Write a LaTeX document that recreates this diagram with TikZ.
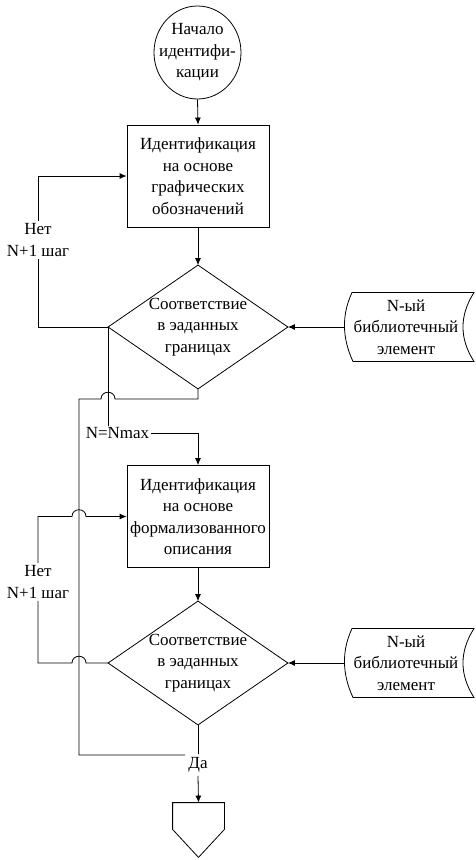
\documentclass[tikz,border=0pt]{standalone}
\usepackage{fontspec}
\setmainfont{Liberation Serif}
\usetikzlibrary{arrows.meta,calc}
\begin{document}
\begin{tikzpicture}[x=1pt,y=-1pt,
  line width=0.8pt,
  every node/.style={font=\fontsize{17}{21.5}\selectfont, align=center},
  arr/.style={-{Latex[length=7pt,width=6pt]}},
  procbox/.style={draw, rectangle, minimum width=142, minimum height=102, inner sep=0},
  decbox/.style={rectangle, minimum width=179, minimum height=123, inner sep=0},
  libbox/.style={rectangle, inner sep=0},
  lbl/.style={inner sep=2pt}
]
\useasboundingbox (0,0) rectangle (476,860);

% start
\node[minimum width=87, minimum height=93, inner sep=0] (start) at (197.5,52.5) {Начало\\идентифи-\\кации};
\draw (start.center) ellipse [x radius=43.5, y radius=46.5];

% process 1
\node[procbox] (box1) at (198,176) {Идентификация\\на основе\\графических\\обозначений};

% decision 1
\node[decbox] (d1) at (198,327) {Соответствие\\в эаданных\\границах};
\draw (d1.north) -- (d1.east) -- (d1.south) -- (d1.west) -- cycle;

% library 1
\node[libbox] (lib1) at (406,327) {N-ый\\библиотечный\\элемент};
\draw ([shift={(-54,-34.5)}]lib1.center) .. controls +(-10.7,23) and +(-10.7,-23) .. ([shift={(-53,34.5)}]lib1.center)
  -- ([shift={(68,34.5)}]lib1.center) .. controls +(-14.7,-23) and +(-14.7,23) .. ([shift={(68,-34.5)}]lib1.center) -- cycle;

% process 2
\node[procbox] (box2) at (198,516.5) {Идентификация\\на основе\\формализованного\\описания};

% decision 2
\node[decbox] (d2) at (198,663) {Соответствие\\в эаданных\\границах};
\draw (d2.north) -- (d2.east) -- (d2.south) -- (d2.west) -- cycle;

% library 2
\node[libbox] (lib2) at (406,663) {N-ый\\библиотечный\\элемент};
\draw ([shift={(-54,-34.5)}]lib2.center) .. controls +(-10.7,23) and +(-10.7,-23) .. ([shift={(-53,34.5)}]lib2.center)
  -- ([shift={(68,34.5)}]lib2.center) .. controls +(-14.7,-23) and +(-14.7,23) .. ([shift={(68,-34.5)}]lib2.center) -- cycle;

% end
\node[minimum width=51, minimum height=26, inner sep=0] (fin) at (198.5,816) {};
\draw (fin.north west) -- (fin.north east) -- (fin.south east) -- ($(fin.south)+(0,28)$) -- (fin.south west) -- cycle;

% labels
\node[lbl] (nl1) at (38,240) {Нет\\N+1 шаг};
\node[lbl] (nl2) at (38,582) {Нет\\N+1 шаг};
\node[inner sep=1pt] (nmax) at (117.5,433.5) {N=Nmax};
\node[inner sep=3pt] (yes) at (198,765) {Да};

% connectors
\draw[arr] (start.south) -- (box1.north);
\draw[arr] (box1.south) -- (d1.north);
\draw[arr] ([xshift=-62]lib1.center) -- (d1.east);
\draw (d1.west) -| (nl1.south);
\draw[arr] (nl1.north) |- (box1.west);
\draw (d1.west) -- (d1.west |- nmax.north);
\draw[arr] (nmax.east) -| (box2.north);
\coordinate (ya) at (79,755);
\draw (d1.south) -- (198,399) -- (115,399) .. controls +(0,-9) and +(0,-9) .. (101,399) -- (79,399) -- (ya) -- (ya -| yes.west);
\draw[arr] (box2.south) -- (d2.north);
\draw[arr] ([xshift=-62]lib2.center) -- (d2.east);
\draw (d2.west) -- (86,663) .. controls +(0,-9) and +(0,-9) .. (72,663) -- (38,663) -- (nl2.south);
\draw[arr] (nl2.north) -- (38,516.5) -- (72,516.5) .. controls +(0,-9) and +(0,-9) .. (86,516.5) -- (box2.west);
\draw (d2.south) -- (yes.north);
\draw[arr] (yes.south) -- (fin.north);
\end{tikzpicture}
\end{document}
